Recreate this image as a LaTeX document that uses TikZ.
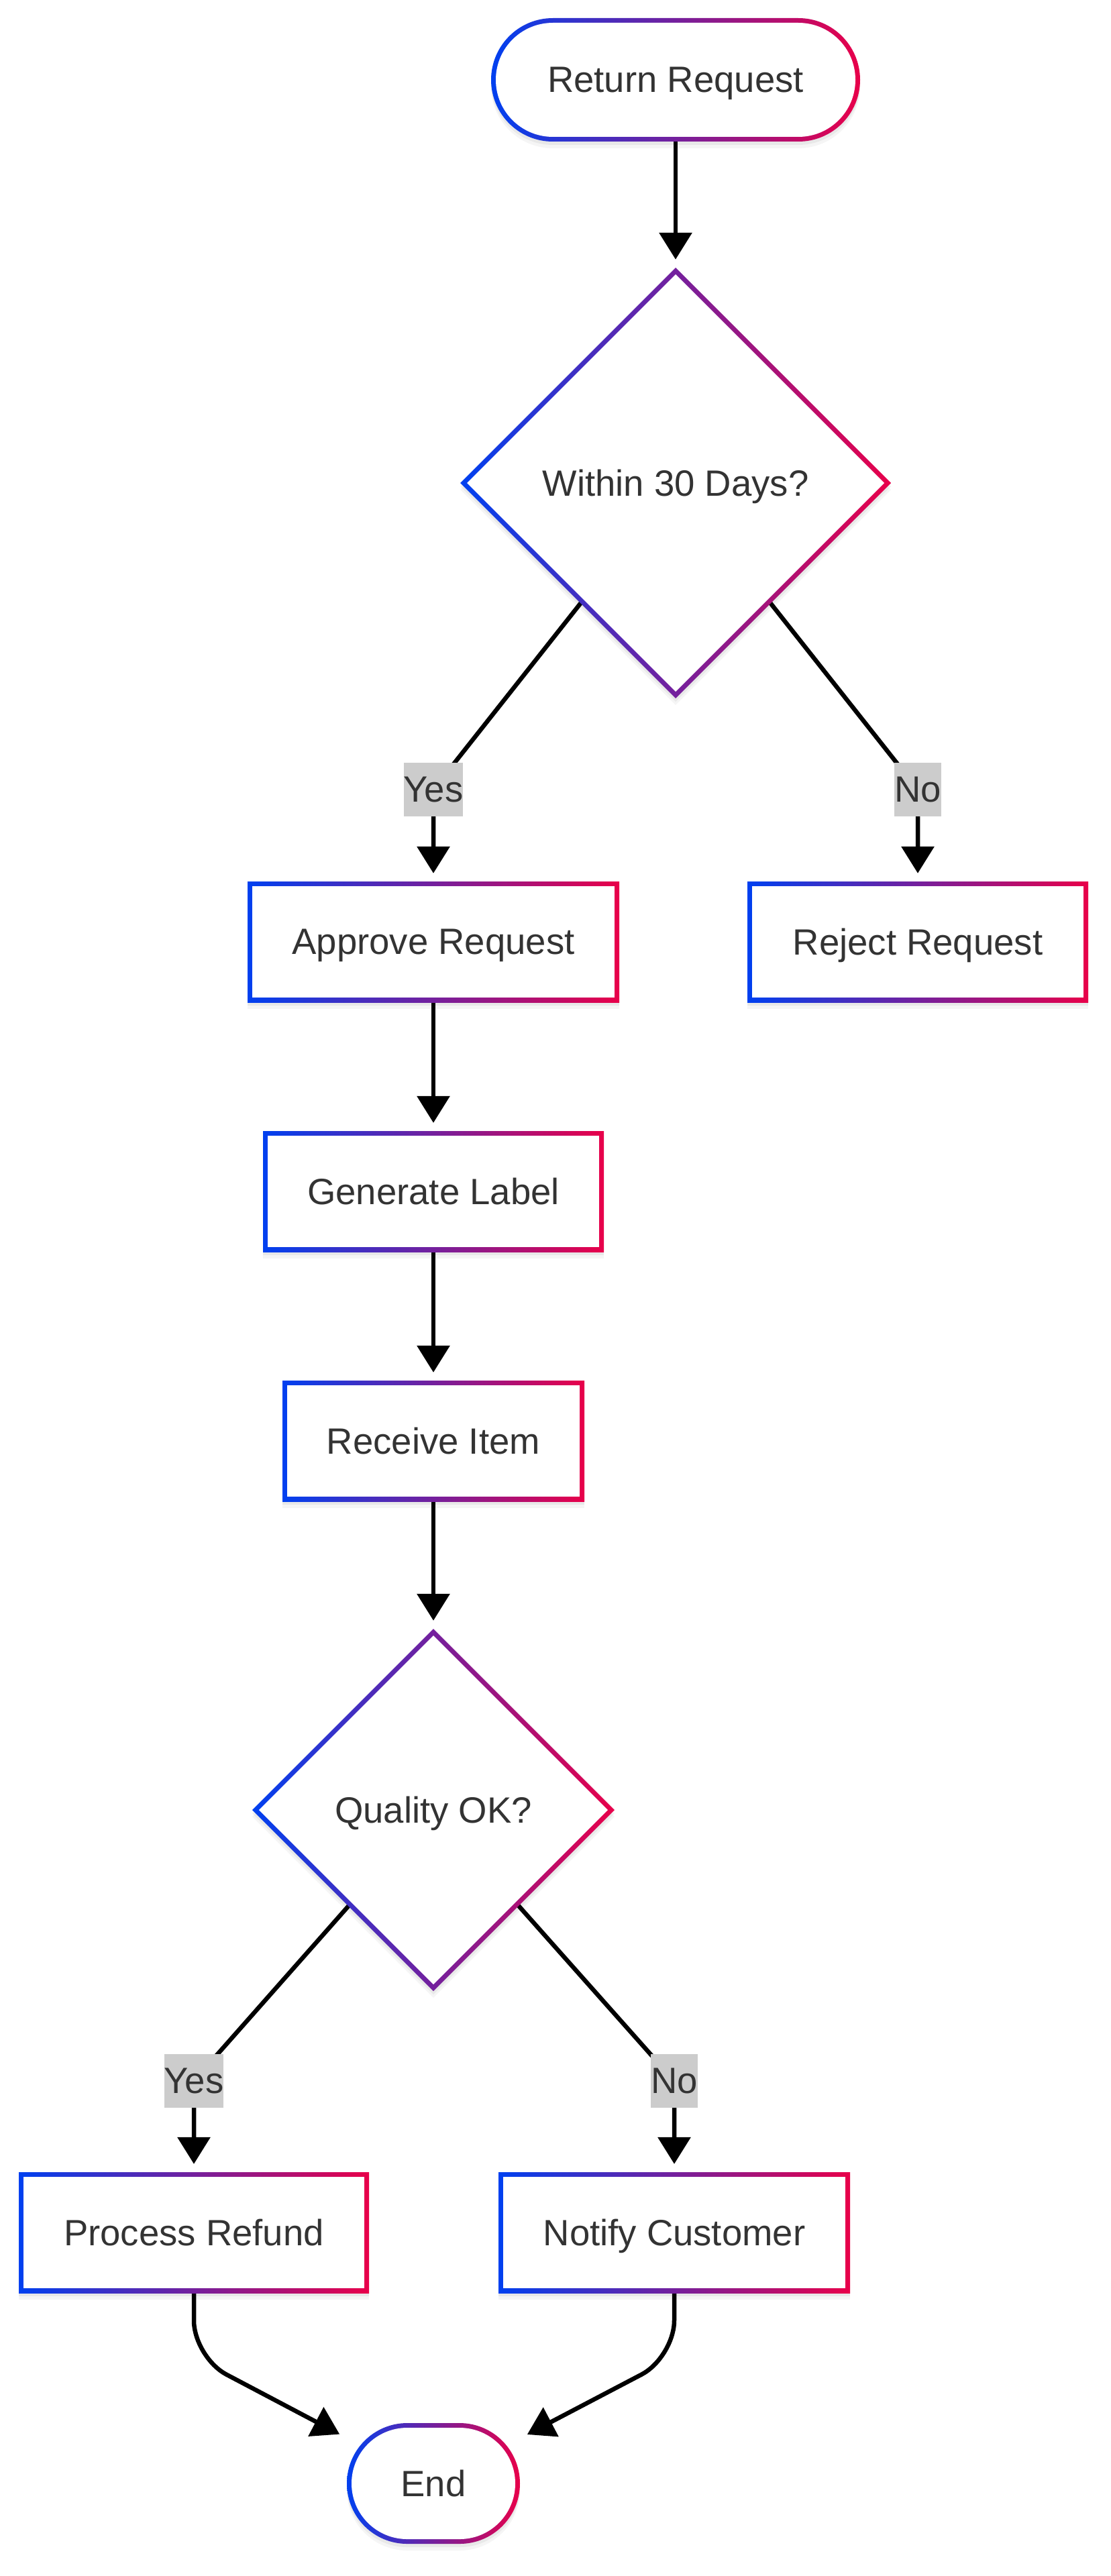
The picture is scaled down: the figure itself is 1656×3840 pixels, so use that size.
\documentclass[tikz,border=0pt]{standalone}
\usepackage{fontspec}
\setmainfont{Liberation Sans}
\usetikzlibrary{arrows.meta,shapes.geometric}
\definecolor{gblue}{RGB}{0,64,240}
\definecolor{gred}{RGB}{232,0,74}
\definecolor{txtc}{RGB}{51,51,51}
\definecolor{lblc}{RGB}{204,204,204}
\pgfdeclarelayer{bg}
\pgfsetlayers{bg,main}
\tikzset{
  gshade/.style={left color=gblue,right color=gred,draw=none},
  gshadowA/.style={fill=black,opacity=0.05,shift={(0,5)}},
  gshadowB/.style={fill=black,opacity=0.04,shift={(0,10)}},
  txt/.style={text=txtc,font=\fontsize{54.5pt}{65pt}\selectfont,inner sep=0pt,align=center,text depth=0pt},
  lbl/.style={fill=lblc,text=txtc,font=\fontsize{54.5pt}{65pt}\selectfont,inner xsep=0pt,inner ysep=0pt,minimum height=80pt},
  edge/.style={line width=6.5pt,black,-{Triangle[width=48pt,length=40pt]},shorten >=12pt},
}
% #1 name, #2 cx, #3 cy, #4 w, #5 h, #6 text
\newcommand\GBox[6]{%
  \pgfmathsetmacro\gxA{#2-#4/2}\pgfmathsetmacro\gxB{#2+#4/2}%
  \pgfmathsetmacro\gyA{#3-#5/2}\pgfmathsetmacro\gyB{#3+#5/2}%
  \pgfmathsetmacro\gxC{#2-#4/2+7}\pgfmathsetmacro\gxD{#2+#4/2-7}%
  \pgfmathsetmacro\gyC{#3-#5/2+7}\pgfmathsetmacro\gyD{#3+#5/2-7}%
  \fill[gshadowB] (\gxA,\gyA) rectangle (\gxB,\gyB);
  \fill[gshadowA] (\gxA,\gyA) rectangle (\gxB,\gyB);
  \shade[gshade] (\gxA,\gyA) rectangle (\gxB,\gyB);
  \fill[white] (\gxC,\gyC) rectangle (\gxD,\gyD);
  \node[txt,minimum width=#4pt,minimum height=#5pt] (#1) at (#2,#3) {#6};
}
\newcommand\GTerm[6]{%
  \pgfmathsetmacro\gxA{#2-#4/2}\pgfmathsetmacro\gxB{#2+#4/2}%
  \pgfmathsetmacro\gyA{#3-#5/2}\pgfmathsetmacro\gyB{#3+#5/2}%
  \pgfmathsetmacro\gxC{#2-#4/2+7}\pgfmathsetmacro\gxD{#2+#4/2-7}%
  \pgfmathsetmacro\gyC{#3-#5/2+7}\pgfmathsetmacro\gyD{#3+#5/2-7}%
  \pgfmathsetmacro\gR{#5/2}\pgfmathsetmacro\gr{#5/2-7}%
  \fill[gshadowB,rounded corners=\gR pt] (\gxA,\gyA) rectangle (\gxB,\gyB);
  \fill[gshadowA,rounded corners=\gR pt] (\gxA,\gyA) rectangle (\gxB,\gyB);
  \shade[gshade,rounded corners=\gR pt] (\gxA,\gyA) rectangle (\gxB,\gyB);
  \fill[white,rounded corners=\gr pt] (\gxC,\gyC) rectangle (\gxD,\gyD);
  \node[txt,minimum width=#4pt,minimum height=#5pt] (#1) at (#2,#3) {#6};
}
% #1 name, #2 cx, #3 cy, #4 half size, #5 text
\newcommand\GDia[5]{%
  \pgfmathsetmacro\gxA{#2-#4}\pgfmathsetmacro\gxB{#2+#4}%
  \pgfmathsetmacro\gyA{#3-#4}\pgfmathsetmacro\gyB{#3+#4}%
  \pgfmathsetmacro\gxC{#2-#4+10}\pgfmathsetmacro\gxD{#2+#4-10}%
  \pgfmathsetmacro\gyC{#3-#4+10}\pgfmathsetmacro\gyD{#3+#4-10}%
  \pgfmathsetmacro\gS{2*#4}%
  \fill[gshadowB] (#2,\gyA) -- (\gxB,#3) -- (#2,\gyB) -- (\gxA,#3) -- cycle;
  \fill[gshadowA] (#2,\gyA) -- (\gxB,#3) -- (#2,\gyB) -- (\gxA,#3) -- cycle;
  \shade[gshade] (#2,\gyA) -- (\gxB,#3) -- (#2,\gyB) -- (\gxA,#3) -- cycle;
  \fill[white] (#2,\gyC) -- (\gxD,#3) -- (#2,\gyD) -- (\gxC,#3) -- cycle;
  \node[txt,diamond,minimum width=\gS pt,minimum height=\gS pt] (#1) at (#2,#3) {#5};
}
\begin{document}
\begin{tikzpicture}[x=1pt,y=-1pt]
\begin{pgfonlayer}{bg}
\fill[white] (0,0) rectangle (1656,3840);
\end{pgfonlayer}
\useasboundingbox (0,0) rectangle (1656,3840);

\GTerm{start}{1007}{119}{550}{184}{Return Request}
\GDia{d1}{1007}{720}{321}{Within 30 Days?}
\GBox{approve}{646}{1404}{554}{180}{Approve Request}
\GBox{reject}{1368}{1404}{508}{180}{Reject Request}
\GBox{generate}{646}{1776}{508}{180}{Generate Label}
\GBox{receive}{646}{2148}{450}{180}{Receive Item}
\GDia{d2}{646}{2698}{270}{Quality OK?}
\GBox{refund}{289}{3328}{522}{180}{Process Refund}
\GBox{notify}{1005}{3328}{524}{180}{Notify Customer}
\GTerm{end}{646}{3702}{258}{180}{End}

\node[lbl] (ly1) at (646,1177) {Yes};
\node[lbl] (ln1) at (1368,1177) {No};
\node[lbl] (ly2) at (289,3102) {Yes};
\node[lbl] (ln2) at (1005,3102) {No};

\begin{pgfonlayer}{bg}
\draw[edge] (start.south) -- (d1.north);
\draw[edge] (d1.center) -- (ly1.center) -- (approve.north);
\draw[edge] (d1.center) -- (ln1.center) -- (reject.north);
\draw[edge] (approve.south) -- (generate.north);
\draw[edge] (generate.south) -- (receive.north);
\draw[edge] (receive.south) -- (d2.north);
\draw[edge] (d2.center) -- (ly2.center) -- (refund.north);
\draw[edge] (d2.center) -- (ln2.center) -- (notify.north);
\draw[edge,rounded corners=55pt] (refund.south) -- (289,3514) -- (end);
\draw[edge,rounded corners=55pt] (notify.south) -- (1005,3514) -- (end);
\end{pgfonlayer}
\end{tikzpicture}
\end{document}
